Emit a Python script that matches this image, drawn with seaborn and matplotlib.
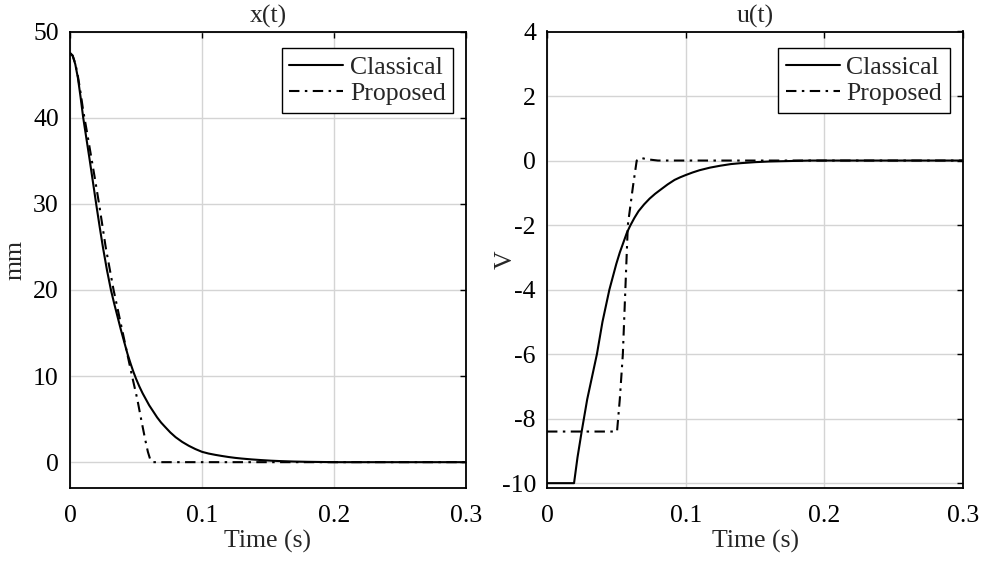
import numpy as np
import pandas as pd
import matplotlib
matplotlib.use("Agg")
import matplotlib.pyplot as plt
import seaborn as sns

# ---- data ----
t_x_classical = [0, .002, .004, .006, .008, .010, .0125, .015, .0175, .020, .0225, .025, .028,
                 .031, .0335, .036, .0385, .041, .0435, .046, .048, .050, .0525, .055, .0575,
                 .060, .063, .066, .069, .072, .076, .080, .085, .090, .095, .100, .105, .110,
                 .115, .120, .125, .130, .1375, .145, .1525, .160, .170, .180, .190, .200, .300]
x_classical = [47.5, 47.2, 46.2, 44.6, 42.4, 40.0, 37.5, 35.0, 32.4, 29.8, 27.3, 24.9, 22.3,
               20.0, 18.4, 16.9, 15.4, 14.0, 12.6, 11.4, 10.5, 9.7, 8.8, 8.0, 7.3,
               6.6, 5.9, 5.2, 4.6, 4.1, 3.45, 2.9, 2.35, 1.9, 1.52, 1.2, 1.0, 0.85,
               0.72, 0.6, 0.5, 0.42, 0.32, 0.24, 0.17, 0.12, 0.07, 0.04, 0.02, 0.0, 0.0]

t_x_proposed = [0, .002, .004, .006, .008, .010, .013, .016, .019, .022, .027, .033, .040,
                .047, .051, .054, .057, .059, .061, .063, .300]
x_proposed = [47.5, 47.2, 46.3, 44.8, 42.9, 40.8, 38.2, 35.5, 32.8, 30.0, 25.0, 20.0, 15.0,
              10.0, 7.3, 4.9, 2.6, 1.2, 0.2, 0.0, 0.0]

t_u_classical = [0, .0195, .022, .025, .027, .029, .031, .033, .036, .038, .040, .0425, .045,
                 .0475, .050, .0525, .055, .0575, .060, .063, .066, .070, .074, .078, .082,
                 .087, .092, .096, .100, .105, .110, .1175, .125, .1325, .140, .150, .160,
                 .170, .180, .190, .200, .300]
u_classical = [-10, -10, -9.2, -8.4, -7.9, -7.4, -7.0, -6.6, -6.0, -5.5, -5.0, -4.5, -4.0,
               -3.6, -3.2, -2.85, -2.55, -2.25, -2.02, -1.78, -1.57, -1.36, -1.18, -1.03, -0.9,
               -0.74, -0.6, -0.52, -0.45, -0.37, -0.3, -0.22, -0.16, -0.11, -0.08, -0.05, -0.03,
               -0.02, -0.01, 0.0, 0.0, 0.0]

t_u_proposed = [0, .0505, .0525, .0547, .0583, .062, .0647, .068, .072, .080, .300]
u_proposed = [-8.4, -8.4, -7.4, -6.0, -2.0, -0.8, 0.0, 0.08, 0.04, 0.0, 0.0]

series_labels = ["Classical", "Proposed"]
x_ticks = [0, 0.1, 0.2, 0.3]
x_tick_labels = ["0", "0.1", "0.2", "0.3"]
left_y_ticks = [0, 10, 20, 30, 40, 50]
right_y_ticks = [-10, -8, -6, -4, -2, 0, 2, 4]
titles = ["x(t)", "u(t)"]
y_labels = ["mm", "V"]
x_label = "Time (s)"

# ---- style ----
sns.set_style("white")
plt.rcParams["font.family"] = ["Liberation Serif", "DejaVu Serif"]
plt.rcParams["axes.unicode_minus"] = False
FS = 18.5

fig = plt.figure(figsize=(9.84, 5.65), dpi=100)
W, H = 984, 565
ax1 = fig.add_axes([70 / W, (H - 488) / H, 396 / W, 456.5 / H])
ax2 = fig.add_axes([547 / W, (H - 488) / H, 416 / W, 456.5 / H])

dashdot = (0, (5, 2.6, 1.2, 2.6))

df_x_c = pd.DataFrame({"t": t_x_classical, "v": x_classical})
df_x_p = pd.DataFrame({"t": t_x_proposed, "v": x_proposed})
df_u_c = pd.DataFrame({"t": t_u_classical, "v": u_classical})
df_u_p = pd.DataFrame({"t": t_u_proposed, "v": u_proposed})

for ax, dc, dp in [(ax1, df_x_c, df_x_p), (ax2, df_u_c, df_u_p)]:
    sns.lineplot(data=dc, x="t", y="v", ax=ax, color="black", lw=1.5,
                 label=series_labels[0], sort=False, estimator=None)
    sns.lineplot(data=dp, x="t", y="v", ax=ax, color="black", lw=1.5,
                 linestyle=dashdot, label=series_labels[1], sort=False, estimator=None)

ax1.set_ylim(-3, 50)
ax1.set_yticks(left_y_ticks)
ax2.set_ylim(-10.15, 4)
ax2.set_yticks(right_y_ticks)

for i, ax in enumerate([ax1, ax2]):
    ax.set_xlim(0, 0.3)
    ax.set_xticks(x_ticks)
    ax.set_xticklabels(x_tick_labels)
    ax.grid(True, color="#d4d4d4", lw=1.0)
    ax.set_axisbelow(True)
    for s in ax.spines.values():
        s.set_color("black")
        s.set_linewidth(1.3)
        s.set_visible(True)
    ax.tick_params(direction="in", top=True, right=True, length=4, width=1.0,
                   labelsize=FS, colors="black")
    ax.tick_params(axis="x", pad=12.5)
    ax.tick_params(axis="y", pad=8)
    ax.set_title(titles[i], fontsize=FS, pad=6.5)
    ax.set_xlabel(x_label, fontsize=FS, labelpad=2)
    ax.set_ylabel(y_labels[i], fontsize=FS)
    leg = ax.legend(loc="upper right", bbox_to_anchor=(0.968, 0.964), borderaxespad=0,
                    fontsize=FS, frameon=True, fancybox=False, framealpha=1,
                    edgecolor="black", handlelength=2.1, handletextpad=0.25,
                    labelspacing=0.15, borderpad=0.3)
    leg.get_frame().set_linewidth(1.0)

ax1.yaxis.set_label_coords(-0.11, 0.5)
ax2.yaxis.set_label_coords(-0.072, 0.5)

fig.savefig("out.png", dpi=100)
